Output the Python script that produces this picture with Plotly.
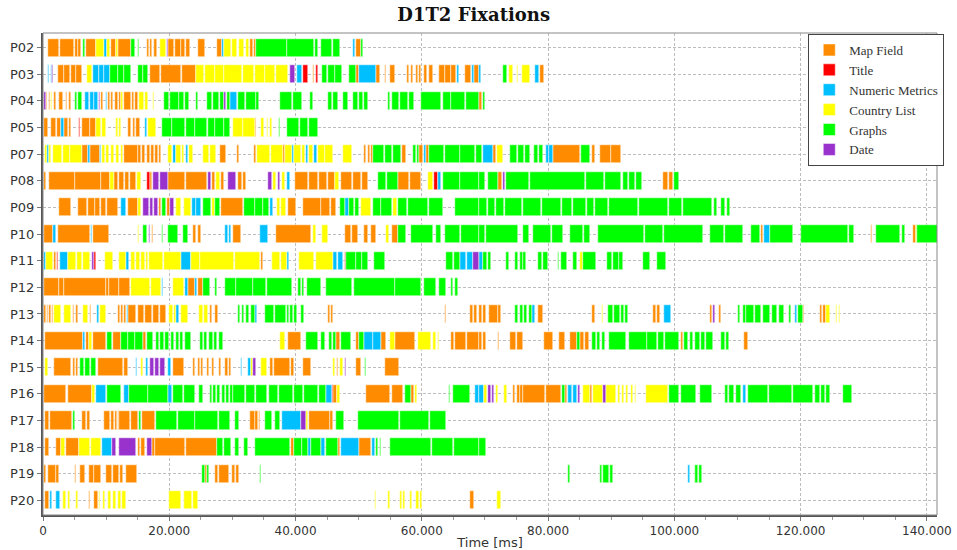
import plotly.graph_objects as go

participants = ["P02","P03","P04","P05","P07","P08","P09","P10","P11","P12",
                "P13","P14","P15","P16","P17","P18","P19","P20"]

categories = ["Map Field","Title","Numeric Metrics","Country List","Graphs","Date"]
cat_codes = ["M","T","N","C","G","D"]
cat_colors = ["#FF8C00","#FF0000","#00BFFF","#FFFF00","#00FF00","#9932CC"]

# fixations: (start [s], end [s], area code)
P02 = [(0.8,2.6,"M"),(2.7,4.9,"M"),(5.0,5.5,"M"),(5.6,6.0,"M"),(6.4,6.7,"G"),(6.8,8.4,"M"),(8.4,9.6,"C"),(9.6,10.1,"N"),(10.1,10.6,"C"),(10.7,11.5,"M"),(11.6,11.8,"C"),(11.8,14.0,"M"),(14.0,14.5,"G"),(15.0,15.2,"G"),(16.5,16.8,"M"),(17.0,17.3,"M"),(17.6,18.0,"M"),(18.6,19.5,"C"),(19.6,19.75,"D"),(19.8,20.8,"M"),(20.9,21.8,"M"),(21.9,22.5,"M"),(22.6,23.3,"M"),(24.5,25.6,"M"),(27.6,28.4,"M"),(28.4,28.7,"N"),(28.7,29.8,"C"),(29.9,30.8,"C"),(31.1,31.9,"C"),(32.2,32.6,"C"),(32.8,33.3,"M"),(33.4,33.7,"M"),(33.8,38.6,"G"),(38.7,43.0,"G"),(43.1,43.5,"G"),(44.0,45.8,"G"),(45.9,47.1,"G"),(49.1,49.4,"N"),(49.5,50.4,"M"),(50.4,50.7,"G")]
P03 = [(0.8,1.0,"N"),(1.2,1.4,"N"),(1.5,1.65,"D"),(2.4,3.3,"M"),(3.4,4.3,"M"),(4.4,5.2,"M"),(5.3,6.2,"M"),(6.9,7.8,"C"),(7.9,8.8,"N"),(8.9,9.6,"N"),(9.7,10.6,"N"),(10.6,11.8,"G"),(11.9,12.8,"G"),(12.9,14.0,"G"),(15.0,15.8,"G"),(15.9,16.6,"G"),(17.0,18.6,"M"),(18.7,21.9,"M"),(22.0,24.2,"M"),(24.3,25.5,"C"),(25.6,27.2,"C"),(27.3,28.6,"C"),(28.7,31.5,"C"),(31.6,33.4,"C"),(33.5,35.1,"C"),(35.2,36.8,"C"),(36.9,38.8,"C"),(39.2,39.9,"D"),(40.3,41.1,"N"),(41.2,42.0,"T"),(42.7,42.9,"M"),(43.3,43.5,"T"),(44.2,45.0,"G"),(45.1,46.2,"G"),(46.3,47.4,"G"),(48.5,49.6,"G"),(49.6,50.0,"M"),(50.0,52.7,"N"),(52.7,53.4,"M"),(54.1,54.3,"M"),(55.0,55.8,"M"),(57.6,57.9,"M"),(58.3,58.6,"M"),(59.0,59.4,"M"),(59.6,59.8,"M"),(60.4,60.8,"M"),(61.2,61.8,"M"),(62.8,63.6,"M"),(63.7,64.6,"M"),(64.7,65.4,"M"),(65.5,65.9,"N"),(66.9,67.8,"M"),(68.0,68.3,"N"),(68.3,69.1,"M"),(69.1,69.4,"N"),(72.8,73.5,"G"),(73.8,74.4,"C"),(75.0,75.2,"C"),(75.9,77.2,"C"),(77.9,78.5,"N"),(78.7,79.4,"M")]
P04 = [(0.1,0.4,"D"),(0.5,0.7,"M"),(0.9,1.1,"M"),(1.3,1.5,"C"),(1.7,2.1,"M"),(2.6,3.1,"M"),(3.6,3.8,"M"),(4.1,4.5,"M"),(5.0,5.4,"G"),(5.6,6.1,"G"),(6.6,7.3,"N"),(7.4,8.0,"N"),(8.1,8.7,"N"),(8.8,9.0,"D"),(9.2,9.5,"M"),(9.9,10.1,"N"),(10.3,10.6,"M"),(10.8,11.1,"M"),(11.4,11.8,"M"),(12.0,12.3,"M"),(12.4,12.7,"C"),(12.8,14.0,"M"),(14.1,14.4,"M"),(14.6,15.0,"M"),(15.2,16.0,"C"),(16.1,16.6,"C"),(17.4,17.6,"C"),(19.2,20.0,"G"),(20.1,21.5,"G"),(21.6,22.4,"G"),(22.5,23.2,"G"),(24.2,24.5,"G"),(26.0,26.8,"G"),(27.0,27.8,"G"),(28.0,28.6,"G"),(28.7,29.0,"D"),(29.1,29.6,"G"),(29.6,30.7,"N"),(30.9,32.0,"G"),(32.1,33.7,"G"),(33.8,34.2,"G"),(37.6,39.5,"G"),(39.6,41.1,"G"),(42.3,42.8,"G"),(45.1,45.8,"G"),(46.0,46.7,"G"),(47.5,48.3,"G"),(49.1,49.9,"G"),(50.0,50.7,"G"),(50.8,51.5,"G"),(54.7,54.9,"G"),(55.3,56.4,"G"),(56.6,57.8,"G"),(58.0,58.8,"G"),(59.9,63.1,"G"),(63.3,64.6,"G"),(64.7,66.8,"G"),(67.0,69.1,"G"),(69.1,69.6,"M"),(69.7,70.0,"G")]
P05 = [(0.1,0.8,"M"),(1.3,2.1,"M"),(2.2,2.9,"M"),(2.9,3.3,"N"),(3.3,4.0,"M"),(4.1,4.5,"M"),(5.7,5.9,"T"),(6.2,7.4,"M"),(7.5,8.4,"M"),(8.4,9.2,"C"),(9.4,10.0,"C"),(11.6,11.8,"C"),(12.1,12.3,"C"),(13.5,14.0,"M"),(14.2,14.6,"M"),(14.8,15.3,"M"),(16.1,16.4,"N"),(16.6,17.9,"C"),(18.9,20.4,"G"),(20.5,22.5,"G"),(22.6,24.0,"G"),(24.1,25.9,"G"),(26.1,27.2,"G"),(27.3,28.6,"G"),(28.7,29.6,"G"),(30.1,31.6,"C"),(31.7,33.5,"C"),(33.6,33.8,"M"),(34.6,35.0,"C"),(35.4,35.7,"C"),(35.9,36.2,"C"),(37.3,37.5,"G"),(38.6,40.6,"G"),(40.7,42.0,"G"),(42.1,43.5,"G")]
P07 = [(0.3,0.6,"C"),(0.7,1.0,"N"),(1.0,1.3,"C"),(1.6,3.0,"C"),(3.1,4.2,"C"),(4.3,6.1,"C"),(6.1,7.1,"M"),(7.1,7.4,"N"),(7.4,9.0,"M"),(9.0,9.2,"N"),(9.3,9.8,"C"),(10.0,10.5,"C"),(10.7,11.3,"C"),(11.5,12.1,"C"),(12.3,12.7,"C"),(12.8,15.0,"M"),(15.1,15.5,"M"),(15.7,16.2,"M"),(16.4,16.9,"M"),(17.1,17.6,"M"),(17.8,18.2,"M"),(18.4,18.7,"M"),(19.8,20.5,"C"),(20.6,21.0,"N"),(21.1,21.8,"C"),(22.0,22.4,"C"),(22.6,23.0,"N"),(23.2,23.8,"C"),(25.4,26.3,"C"),(26.5,27.4,"C"),(28.1,29.0,"M"),(30.7,31.0,"M"),(33.4,33.7,"M"),(33.9,36.0,"C"),(36.1,38.0,"C"),(38.0,38.3,"M"),(38.4,39.5,"C"),(39.5,39.7,"N"),(39.8,40.9,"C"),(41.0,41.5,"C"),(41.6,41.9,"N"),(42.1,42.8,"C"),(43.0,43.4,"N"),(43.5,44.6,"C"),(44.7,45.9,"C"),(47.5,49.0,"C"),(50.8,51.2,"M"),(51.4,51.8,"M"),(52.0,52.3,"M"),(52.3,54.0,"G"),(54.1,55.3,"G"),(55.4,56.7,"G"),(56.9,57.5,"M"),(58.6,59.0,"G"),(59.2,59.6,"G"),(59.6,60.2,"M"),(60.3,60.6,"N"),(60.6,61.2,"M"),(61.2,63.5,"G"),(63.6,66.0,"G"),(66.1,68.5,"G"),(68.6,69.6,"G"),(69.7,71.3,"N"),(71.3,71.8,"M"),(71.9,72.8,"C"),(73.9,75.0,"G"),(75.2,76.2,"G"),(76.3,77.1,"G"),(77.7,78.4,"G"),(78.5,79.2,"G"),(79.7,80.1,"N"),(80.2,80.8,"N"),(80.8,85.0,"M"),(85.2,86.7,"G"),(86.9,87.4,"M"),(88.3,89.9,"M"),(90.0,91.6,"M")]
P08 = [(0.2,0.5,"M"),(1.0,5.0,"M"),(5.1,9.2,"M"),(9.2,10.6,"M"),(10.6,11.3,"C"),(11.3,11.9,"M"),(12.1,12.8,"M"),(13.0,13.6,"M"),(13.8,14.8,"M"),(14.9,15.5,"C"),(16.5,16.9,"T"),(17.0,17.3,"M"),(17.4,18.4,"D"),(18.5,19.8,"D"),(19.8,22.5,"M"),(22.6,25.9,"M"),(26.2,26.6,"D"),(26.8,27.2,"M"),(27.4,28.0,"C"),(28.2,28.6,"M"),(29.3,30.6,"D"),(30.9,31.5,"M"),(31.7,32.2,"M"),(35.6,36.2,"D"),(36.5,36.9,"C"),(37.2,37.6,"D"),(37.9,38.4,"C"),(38.6,39.2,"N"),(39.9,42.0,"M"),(42.1,43.6,"M"),(43.7,45.0,"M"),(45.1,46.2,"M"),(46.2,46.9,"C"),(47.2,49.0,"M"),(49.1,50.4,"M"),(50.5,51.5,"M"),(53.0,54.4,"G"),(54.5,56.2,"G"),(56.2,58.0,"M"),(58.1,59.9,"M"),(61.0,61.8,"C"),(62.0,62.5,"T"),(62.5,63.1,"N"),(63.3,66.0,"G"),(66.1,69.1,"G"),(69.1,70.0,"G"),(70.5,72.0,"G"),(72.0,72.7,"M"),(72.8,73.1,"D"),(73.4,77.0,"G"),(77.2,85.8,"G"),(86.0,88.8,"G"),(89.0,91.6,"G"),(91.8,92.6,"G"),(92.8,93.8,"G"),(94.0,94.8,"G"),(98.2,99.0,"M"),(99.1,99.8,"M"),(100.0,100.8,"G")]
P09 = [(2.5,4.5,"M"),(5.5,7.0,"M"),(7.1,8.2,"M"),(8.3,9.1,"M"),(9.2,10.0,"M"),(10.1,11.9,"M"),(12.4,13.2,"N"),(13.5,15.0,"M"),(15.1,15.6,"C"),(15.8,16.8,"D"),(16.9,17.5,"D"),(17.6,18.2,"D"),(18.3,18.7,"M"),(18.8,19.5,"G"),(19.6,20.1,"M"),(20.1,20.8,"D"),(21.0,21.9,"C"),(22.4,23.4,"C"),(23.6,24.2,"N"),(24.3,25.1,"N"),(25.3,26.6,"G"),(26.7,27.2,"C"),(27.3,28.0,"G"),(28.2,31.7,"M"),(31.9,33.5,"G"),(33.6,34.8,"G"),(34.9,35.8,"G"),(35.9,36.4,"N"),(37.0,37.6,"C"),(37.7,38.5,"C"),(38.8,40.0,"M"),(41.2,44.0,"M"),(44.1,45.5,"M"),(45.6,46.4,"M"),(47.0,47.8,"G"),(47.9,48.4,"N"),(48.5,49.3,"G"),(49.4,50.1,"G"),(50.4,52.0,"C"),(52.3,53.5,"G"),(53.6,55.2,"G"),(55.4,56.0,"C"),(56.2,57.6,"G"),(57.8,61.0,"G"),(61.1,63.3,"G"),(65.2,69.1,"G"),(69.1,70.3,"G"),(70.5,71.6,"G"),(71.8,73.0,"G"),(73.2,75.8,"G"),(76.0,78.8,"G"),(79.0,82.0,"G"),(82.2,83.8,"G"),(84.0,86.0,"G"),(86.2,87.2,"G"),(87.4,89.5,"G"),(89.7,94.2,"G"),(94.4,99.0,"G"),(99.2,101.2,"G"),(101.4,106.0,"G"),(106.2,106.8,"G"),(107.4,108.0,"G"),(108.3,108.8,"G")]
P10 = [(0.2,1.6,"M"),(1.6,2.1,"N"),(2.4,7.4,"M"),(7.6,7.8,"N"),(7.9,10.5,"M"),(15.0,15.2,"C"),(15.8,16.4,"G"),(16.8,17.0,"D"),(17.3,17.5,"M"),(18.8,19.0,"G"),(19.8,21.4,"G"),(22.2,23.0,"G"),(23.8,24.3,"M"),(24.5,25.1,"M"),(28.8,29.3,"N"),(29.4,29.8,"N"),(30.1,31.4,"M"),(34.3,35.6,"N"),(36.9,42.5,"M"),(42.7,43.2,"C"),(44.2,45.1,"C"),(47.8,48.8,"M"),(49.0,49.9,"M"),(50.8,51.4,"M"),(52.0,52.8,"M"),(54.3,54.8,"C"),(55.3,56.2,"M"),(56.2,57.5,"G"),(58.3,61.8,"G"),(62.3,63.1,"G"),(63.6,66.0,"G"),(66.2,69.1,"G"),(69.1,70.0,"G"),(70.2,75.2,"G"),(76.0,77.0,"G"),(77.6,80.4,"G"),(80.6,82.3,"G"),(83.4,85.5,"G"),(85.7,86.6,"G"),(87.9,95.2,"G"),(95.4,98.2,"G"),(98.4,104.5,"G"),(105.6,107.8,"G"),(108.0,110.8,"G"),(112.2,113.5,"G"),(113.7,114.1,"M"),(114.2,115.1,"N"),(115.1,118.8,"G"),(120.1,127.5,"G"),(127.7,128.5,"G"),(131.1,131.3,"M"),(132.0,135.7,"G"),(136.0,136.6,"G"),(137.8,138.2,"M"),(138.2,138.5,"C"),(138.5,141.8,"G")]
P11 = [(0.1,0.4,"N"),(0.5,1.6,"C"),(1.8,2.0,"M"),(2.2,2.4,"T"),(2.7,4.0,"N"),(4.0,5.2,"C"),(5.4,6.2,"C"),(6.4,7.4,"C"),(7.7,8.0,"D"),(8.0,8.4,"T"),(9.8,11.1,"C"),(12.1,13.2,"C"),(13.2,13.6,"N"),(14.0,14.6,"C"),(14.8,15.4,"C"),(15.6,16.1,"C"),(16.3,16.6,"C"),(16.8,19.0,"C"),(19.1,21.9,"C"),(21.9,23.5,"N"),(23.5,24.8,"C"),(24.8,30.2,"C"),(30.4,34.3,"C"),(34.6,34.8,"M"),(36.2,37.5,"C"),(37.7,38.6,"C"),(38.7,38.9,"N"),(40.6,43.0,"C"),(43.2,45.9,"C"),(45.9,46.6,"N"),(46.7,47.5,"N"),(47.8,48.0,"T"),(48.0,49.5,"G"),(49.6,50.5,"G"),(50.6,51.5,"G"),(52.5,54.1,"G"),(63.9,65.0,"G"),(65.1,66.0,"G"),(66.0,67.0,"N"),(67.1,68.1,"N"),(68.1,69.1,"D"),(69.1,69.7,"N"),(69.7,70.4,"G"),(70.5,71.0,"G"),(73.3,73.8,"G"),(74.7,75.3,"G"),(75.5,76.0,"G"),(76.1,76.5,"G"),(78.4,79.0,"G"),(79.2,80.0,"G"),(81.5,81.8,"G"),(82.1,83.0,"G"),(84.0,84.6,"G"),(85.0,85.5,"C"),(85.5,87.6,"G"),(89.3,90.1,"G"),(90.3,91.2,"G"),(91.3,91.9,"G"),(95.1,96.2,"G"),(97.2,98.7,"G")]
P12 = [(0.2,2.5,"M"),(2.6,3.3,"M"),(3.4,10.0,"M"),(10.0,10.4,"M"),(10.5,12.0,"M"),(12.1,13.7,"M"),(14.0,17.0,"C"),(17.1,18.7,"C"),(18.8,19.0,"N"),(20.6,22.4,"C"),(22.5,22.9,"N"),(22.9,24.0,"M"),(24.1,24.4,"N"),(24.5,25.4,"M"),(25.4,26.5,"G"),(27.3,27.6,"G"),(28.9,30.5,"G"),(30.6,33.2,"G"),(33.3,35.3,"G"),(35.4,39.4,"G"),(40.4,40.8,"G"),(41.0,41.4,"G"),(41.8,44.1,"G"),(44.8,49.0,"G"),(49.2,55.7,"G"),(55.8,59.9,"G"),(60.4,62.3,"G"),(62.8,63.9,"G"),(64.7,65.0,"G"),(65.2,65.7,"G")]
P13 = [(0.2,0.4,"M"),(0.6,0.8,"M"),(1.0,1.2,"M"),(1.4,1.6,"M"),(1.8,2.9,"C"),(3.4,4.5,"C"),(4.7,4.9,"M"),(5.2,5.5,"M"),(6.3,7.1,"C"),(7.4,7.6,"M"),(8.6,8.8,"N"),(9.0,10.0,"C"),(11.9,12.2,"M"),(12.4,12.7,"M"),(12.9,13.2,"M"),(13.3,13.5,"N"),(13.5,14.8,"M"),(15.0,16.0,"M"),(16.2,17.2,"M"),(17.4,18.3,"M"),(18.5,19.5,"M"),(20.0,20.6,"C"),(20.8,21.1,"C"),(21.1,21.6,"N"),(21.9,23.0,"C"),(24.7,25.3,"C"),(25.5,26.1,"C"),(26.4,26.8,"M"),(27.3,27.7,"M"),(30.9,31.2,"G"),(31.5,31.8,"G"),(32.2,32.6,"G"),(33.0,33.6,"G"),(33.6,33.9,"N"),(35.1,36.6,"G"),(36.8,38.5,"G"),(38.6,39.0,"G"),(39.2,39.6,"G"),(39.8,40.2,"G"),(40.9,41.4,"G"),(45.1,45.4,"M"),(45.6,45.9,"M"),(63.6,63.8,"M"),(67.6,68.1,"M"),(68.3,68.8,"M"),(69.0,69.5,"M"),(69.7,70.2,"M"),(70.7,72.0,"M"),(72.1,72.6,"M"),(74.7,75.2,"G"),(75.5,76.0,"G"),(76.2,76.7,"G"),(76.9,77.4,"G"),(77.5,77.9,"N"),(78.4,79.2,"M"),(87.0,87.5,"M"),(88.5,88.7,"C"),(89.5,90.3,"G"),(90.5,91.4,"G"),(91.6,92.0,"G"),(92.2,92.7,"G"),(96.6,97.1,"M"),(97.2,97.8,"M"),(98.4,99.5,"N"),(105.7,105.9,"M"),(106.1,106.5,"D"),(107.1,107.4,"M"),(110.1,110.4,"G"),(110.8,111.3,"G"),(111.4,112.6,"G"),(112.8,113.8,"G"),(114.0,115.2,"G"),(115.4,116.3,"G"),(116.5,117.4,"G"),(118.1,118.4,"G"),(119.1,119.5,"N"),(119.6,120.4,"G"),(120.4,120.6,"M"),(123.0,123.4,"M"),(123.6,124.0,"M"),(124.0,124.6,"C"),(125.6,125.8,"C"),(126.0,126.2,"C")]
P14 = [(0.3,6.3,"M"),(6.3,6.7,"N"),(6.8,7.3,"M"),(7.3,7.8,"C"),(7.9,10.0,"M"),(10.1,10.9,"G"),(11.1,12.4,"M"),(12.4,13.4,"G"),(13.5,14.5,"G"),(14.6,15.8,"G"),(15.8,16.3,"M"),(16.4,17.5,"G"),(17.9,18.4,"G"),(18.6,19.2,"G"),(19.4,20.0,"G"),(20.2,20.8,"G"),(21.0,21.5,"G"),(21.7,22.2,"G"),(22.5,23.4,"G"),(24.8,25.3,"G"),(25.5,26.0,"G"),(26.3,26.9,"G"),(27.1,27.6,"G"),(27.9,28.5,"G"),(37.5,38.3,"C"),(38.8,40.9,"M"),(41.6,43.5,"G"),(44.1,44.6,"G"),(45.3,45.8,"G"),(46.0,46.4,"G"),(46.4,47.1,"M"),(47.2,48.8,"G"),(49.6,50.1,"M"),(50.1,50.9,"G"),(50.9,52.2,"N"),(52.3,53.6,"N"),(53.6,54.4,"M"),(54.9,55.8,"C"),(55.8,58.9,"M"),(59.4,61.5,"C"),(61.8,62.2,"C"),(62.5,62.8,"C"),(64.7,65.1,"M"),(65.2,67.0,"M"),(67.1,69.1,"M"),(69.1,69.6,"M"),(69.7,70.1,"M"),(72.0,72.2,"M"),(74.0,74.9,"M"),(75.0,76.0,"M"),(79.4,80.8,"M"),(81.8,82.6,"M"),(83.4,84.5,"M"),(84.5,85.0,"G"),(85.0,85.7,"M"),(85.8,86.5,"M"),(87.0,87.6,"G"),(87.8,88.2,"G"),(88.6,89.0,"G"),(89.7,92.4,"G"),(92.8,95.6,"G"),(95.7,97.3,"G"),(97.4,98.3,"G"),(98.5,100.8,"G"),(101.0,101.4,"M"),(101.6,102.2,"G"),(102.4,103.0,"G"),(103.2,104.0,"G"),(104.2,104.9,"G"),(105.0,106.1,"G"),(107.4,108.0,"G"),(108.1,108.7,"G"),(111.0,111.7,"M")]
P15 = [(0.3,0.8,"C"),(1.8,4.5,"M"),(4.7,5.0,"M"),(5.2,5.5,"M"),(5.8,6.5,"G"),(6.6,7.5,"G"),(7.6,8.4,"G"),(8.7,12.7,"M"),(12.8,13.5,"M"),(14.7,14.9,"N"),(15.6,15.8,"C"),(16.3,16.6,"N"),(16.9,17.6,"D"),(17.7,18.4,"D"),(18.5,19.3,"D"),(19.8,20.3,"N"),(20.6,22.4,"M"),(23.8,24.1,"M"),(24.5,24.8,"M"),(25.1,25.3,"M"),(26.0,26.3,"M"),(26.8,27.1,"M"),(27.8,28.2,"M"),(28.8,29.3,"M"),(29.5,29.8,"M"),(31.3,31.5,"N"),(32.5,32.9,"N"),(33.0,33.3,"C"),(33.3,33.8,"D"),(34.6,35.5,"C"),(36.0,36.4,"M"),(36.6,39.1,"M"),(39.3,39.7,"M"),(41.2,42.5,"M"),(45.9,46.3,"C"),(46.5,46.8,"M"),(47.0,47.5,"C"),(47.8,48.0,"D"),(49.5,50.4,"M"),(51.0,51.2,"G"),(54.1,56.4,"M")]
P16 = [(0.2,3.7,"M"),(4.0,7.8,"M"),(7.8,8.3,"C"),(8.4,10.0,"N"),(10.1,12.4,"G"),(12.8,13.6,"N"),(13.6,16.6,"G"),(16.7,19.8,"G"),(19.8,20.5,"N"),(20.6,22.2,"G"),(22.3,24.0,"G"),(24.7,25.4,"G"),(26.4,26.8,"G"),(27.0,27.4,"G"),(27.6,28.0,"G"),(28.4,28.8,"G"),(29.0,29.4,"G"),(29.6,30.1,"G"),(30.1,32.0,"G"),(32.2,33.6,"G"),(33.8,35.4,"G"),(35.8,37.2,"G"),(37.4,39.6,"G"),(39.8,41.2,"G"),(41.4,43.5,"G"),(43.7,44.8,"G"),(44.8,45.7,"N"),(45.7,45.9,"T"),(46.0,46.5,"M"),(46.6,47.1,"C"),(51.1,55.0,"M"),(55.2,57.0,"M"),(57.3,58.3,"G"),(58.3,58.7,"M"),(58.9,59.2,"C"),(64.3,64.5,"G"),(64.9,67.7,"G"),(68.4,69.1,"N"),(69.1,69.9,"N"),(69.9,70.3,"C"),(70.5,71.0,"D"),(71.1,71.5,"D"),(71.7,72.1,"C"),(73.0,73.5,"C"),(74.4,74.8,"M"),(75.0,75.5,"M"),(75.6,76.0,"M"),(76.0,79.5,"M"),(79.6,82.1,"M"),(82.2,82.6,"G"),(82.7,83.0,"M"),(83.1,83.8,"N"),(84.0,84.6,"N"),(84.7,85.1,"D"),(85.5,86.6,"C"),(86.6,87.0,"M"),(87.1,88.7,"C"),(88.7,89.1,"D"),(89.1,90.7,"C"),(91.0,91.4,"C"),(91.7,92.0,"C"),(92.3,92.7,"C"),(93.1,93.5,"C"),(93.7,94.0,"C"),(95.5,99.0,"C"),(99.2,100.8,"G"),(101.1,103.4,"G"),(104.0,106.0,"G"),(108.0,108.5,"G"),(108.7,109.5,"G"),(109.7,110.6,"G"),(110.9,111.3,"N"),(111.6,114.8,"G"),(115.0,118.6,"G"),(118.8,122.0,"G"),(122.2,123.0,"G"),(123.2,123.8,"G"),(124.0,124.6,"G"),(126.7,128.2,"G")]
P17 = [(0.3,1.0,"M"),(1.1,4.6,"M"),(4.8,5.0,"G"),(6.1,6.8,"M"),(6.9,7.4,"M"),(9.6,10.6,"M"),(10.8,11.2,"M"),(11.4,11.7,"M"),(11.8,12.1,"M"),(12.1,13.8,"M"),(13.9,15.0,"M"),(15.2,15.5,"G"),(15.7,17.8,"M"),(17.9,21.3,"G"),(21.4,24.0,"G"),(24.1,27.7,"G"),(27.8,29.6,"G"),(30.4,31.1,"G"),(32.8,33.5,"M"),(33.6,34.0,"M"),(34.2,34.4,"M"),(35.1,36.3,"G"),(36.7,37.5,"G"),(37.9,40.9,"N"),(40.9,41.6,"D"),(41.7,41.9,"C"),(42.1,45.4,"M"),(45.5,46.0,"M"),(46.4,47.7,"G"),(49.9,56.4,"G"),(56.5,61.2,"G"),(61.3,63.9,"G")]
P18 = [(0.3,1.0,"M"),(2.0,2.9,"M"),(2.9,3.5,"C"),(3.6,5.7,"M"),(5.7,7.5,"C"),(7.6,9.2,"C"),(9.3,11.0,"N"),(11.0,11.6,"D"),(12.0,14.7,"D"),(15.0,15.4,"M"),(15.6,16.2,"M"),(16.4,17.3,"D"),(17.3,17.7,"M"),(17.8,22.5,"M"),(22.6,27.6,"M"),(27.6,28.5,"G"),(28.6,29.8,"G"),(30.4,31.0,"G"),(31.9,32.5,"G"),(33.5,39.1,"G"),(39.3,39.7,"M"),(39.8,41.0,"G"),(41.1,41.9,"G"),(41.9,42.4,"N"),(42.5,44.1,"G"),(44.1,44.6,"N"),(44.8,46.7,"G"),(46.7,47.0,"M"),(47.2,50.1,"N"),(50.1,52.0,"M"),(52.1,52.6,"N"),(52.7,53.0,"G"),(53.3,53.6,"G"),(54.9,61.5,"G"),(61.6,65.0,"G"),(65.1,69.1,"G"),(69.1,70.1,"G")]
P19 = [(0.1,0.5,"M"),(0.8,2.0,"M"),(2.1,2.6,"M"),(5.1,5.3,"M"),(5.8,6.6,"M"),(7.3,8.0,"M"),(8.1,9.2,"M"),(9.9,11.0,"M"),(11.1,12.0,"M"),(12.2,12.6,"M"),(13.2,14.9,"M"),(25.2,25.7,"G"),(25.7,26.0,"M"),(26.0,26.3,"G"),(27.3,27.7,"M"),(27.9,29.4,"M"),(30.0,30.4,"M"),(30.6,31.0,"M"),(34.4,34.6,"G"),(83.1,83.5,"G"),(88.2,88.6,"G"),(88.7,89.6,"G"),(89.8,90.3,"G"),(102.1,102.5,"N"),(103.2,103.8,"G"),(103.9,104.4,"G")]
P20 = [(0.3,1.0,"M"),(1.1,1.4,"N"),(2.1,2.7,"N"),(3.1,3.7,"C"),(4.0,4.2,"C"),(5.3,5.5,"C"),(7.3,7.5,"M"),(8.0,8.7,"M"),(8.8,9.1,"C"),(9.5,9.8,"C"),(10.3,10.7,"C"),(11.1,11.5,"C"),(11.8,12.3,"C"),(12.5,13.2,"C"),(20.0,21.9,"C"),(22.4,23.6,"C"),(23.7,24.5,"C"),(52.6,52.8,"C"),(54.7,54.9,"C"),(56.5,56.9,"C"),(57.0,57.3,"C"),(58.2,58.4,"C"),(59.1,59.5,"C"),(59.7,60.1,"C"),(67.6,68.2,"M"),(71.9,72.6,"C")]

fixations = dict(P02=P02, P03=P03, P04=P04, P05=P05, P07=P07, P08=P08, P09=P09,
                 P10=P10, P11=P11, P12=P12, P13=P13, P14=P14, P15=P15, P16=P16,
                 P17=P17, P18=P18, P19=P19, P20=P20)

fig = go.Figure()
for name, code, color in zip(categories, cat_codes, cat_colors):
    ys, bases, durs = [], [], []
    for p in participants:
        for s, e, c in fixations[p]:
            if c == code:
                ys.append(p)
                bases.append(s * 1000)
                durs.append((e - s) * 1000)
    fig.add_trace(go.Bar(
        name=name, y=ys, x=durs, base=bases, orientation="h",
        marker=dict(color=color, line=dict(color="white", width=0.5)),
        width=0.68, hoverinfo="skip"))

fig.update_layout(
    width=957, height=550,
    margin=dict(l=43, r=20, t=33, b=35, autoexpand=False),
    paper_bgcolor="white", plot_bgcolor="white",
    barmode="overlay", bargap=0,
    separators=",.",
    title=dict(text="<b>D1T2 Fixations</b>", x=0.495, xanchor="center",
               y=0.973, yanchor="middle", automargin=False,
               font=dict(family="DejaVu Serif", size=18, color="#111")),
    font=dict(family="DejaVu Sans", size=12, color="#333"),
    legend=dict(x=0.856, y=0.998, xanchor="left", yanchor="top",
                bgcolor="white", bordercolor="#444", borderwidth=1,
                font=dict(family="Liberation Serif", size=13, color="#333"),
                traceorder="normal", itemwidth=30),
    showlegend=True,
)
fig.update_xaxes(
    range=[0, 141600], dtick=20000, tick0=0, tickformat=",d", automargin=False,
    showgrid=True, gridcolor="#bdbdbd", griddash="3px,2px", gridwidth=1,
    showline=True, linecolor="#555", linewidth=2,
    ticks="outside", ticklen=4, tickcolor="#777",
    minor=dict(dtick=5000, ticks="outside", ticklen=3, tickcolor="#999", showgrid=False),
    title=dict(text="Time [ms]", font=dict(size=13, color="#333"), standoff=2),
    zeroline=False,
)
fig.update_yaxes(
    type="category", categoryorder="array", categoryarray=participants,
    range=[17.55, -0.55], automargin=False,
    showgrid=True, gridcolor="#bdbdbd", griddash="3px,2px", gridwidth=1,
    showline=True, linecolor="#555", linewidth=2,
    ticks="outside", ticklen=4, tickcolor="#777",
    tickfont=dict(size=13, color="#333"),
    zeroline=False,
)
fig.add_shape(type="rect", xref="paper", yref="paper", x0=0, y0=0, x1=1, y1=1,
              line=dict(color="#888", width=1), fillcolor="rgba(0,0,0,0)", layer="above")

fig.write_html("out.html", config={"displayModeBar": False},
               post_script="document.body.style.margin='0px';document.body.style.padding='0px';")
